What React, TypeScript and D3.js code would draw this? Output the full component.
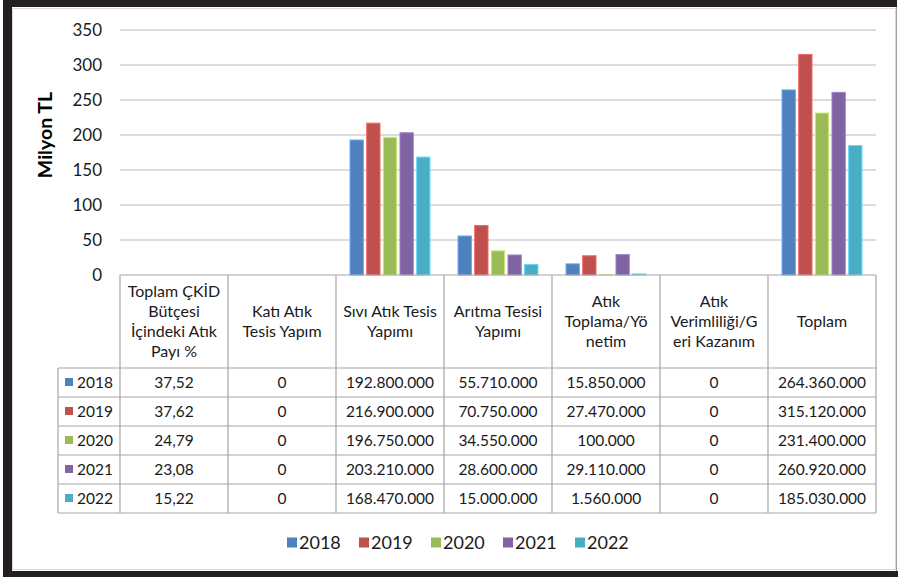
import React from "react";
import * as d3 from "d3";

const categories = [
  "Toplam ÇKİD Bütçesi İçindeki Atık Payı %",
  "Katı Atık Tesis Yapım",
  "Sıvı Atık Tesis Yapımı",
  "Arıtma Tesisi Yapımı",
  "Atık Toplama/Yönetim",
  "Atık Verimliliği/Geri Kazanım",
  "Toplam",
];
const headerLines = [
  ["Toplam ÇKİD", "Bütçesi", "İçindeki Atık", "Payı %"],
  ["Katı Atık", "Tesis Yapım"],
  ["Sıvı Atık Tesis", "Yapımı"],
  ["Arıtma Tesisi", "Yapımı"],
  ["Atık", "Toplama/Yö", "netim"],
  ["Atık", "Verimliliği/G", "eri Kazanım"],
  ["Toplam"],
];
const years = ["2018", "2019", "2020", "2021", "2022"];
const colors = ["#4F81BD", "#C0504D", "#9BBB59", "#8064A2", "#4BACC6"];
// share of waste in total budget (%), table only
const shares = [37.52, 37.62, 24.79, 23.08, 15.22];
// TL amounts for categories 2..7
const v2018 = [0, 192800000, 55710000, 15850000, 0, 264360000];
const v2019 = [0, 216900000, 70750000, 27470000, 0, 315120000];
const v2020 = [0, 196750000, 34550000, 100000, 0, 231400000];
const v2021 = [0, 203210000, 28600000, 29110000, 0, 260920000];
const v2022 = [0, 168470000, 15000000, 1560000, 0, 185030000];
const seriesValues = [v2018, v2019, v2020, v2021, v2022];
const yTicks = [0, 50, 100, 150, 200, 250, 300, 350];

const FONT = "Lato, 'Open Sans', sans-serif";
const trLocale = d3.formatLocale({ decimal: ",", thousands: ".", grouping: [3], currency: ["", " TL"] });
const fmtInt = trLocale.format(",.0f");
const fmtPct = trLocale.format(".2f");

export default function App() {
  const W = 898, H = 577;
  const x = d3.scaleBand<string>().domain(categories).range([120, 876]);
  const bw = x.bandwidth();
  const x1 = d3.scaleBand<string>().domain(years).range([bw * 0.13, bw * 0.87]).paddingInner(0.2);
  const y = d3.scaleLinear().domain([0, 350]).range([275, 30]);
  const tableTop = y(0);
  const headerBottom = 368;
  const rowH = 29;
  const keyLeft = 58;
  const tableBottom = headerBottom + rowH * years.length;
  const lineColor = "#A6A6A6";

  return (
    <svg width={W} height={H} style={{ position: "absolute", left: 0, top: 0, background: "#fff" }} fontFamily={FONT}>
      <rect x={0} y={0} width={W} height={H} fill="#fff" />
      {/* gridlines */}
      {yTicks.filter((t) => t > 0).map((t) => (
        <line key={t} x1={120} x2={876} y1={y(t)} y2={y(t)} stroke="#D0D0D0" strokeWidth={1.5} />
      ))}
      {/* y tick labels */}
      {yTicks.map((t) => (
        <text key={t} x={102} y={y(t)} dy="0.35em" textAnchor="end" fontSize={17} fill="#1a1a1a">{t}</text>
      ))}
      <text transform={`translate(52,135) rotate(-90)`} textAnchor="middle" fontSize={19.5} fontWeight="bold" fill="#000">Milyon TL</text>
      {/* bars */}
      {seriesValues.map((vals, si) =>
        vals.map((v, ci) => {
          const cat = categories[ci + 1];
          const m = v / 1e6;
          if (m <= 0) return null;
          const c = colors[si];
          return (
            <rect key={`${si}-${ci}`} x={(x(cat) as number) + (x1(years[si]) as number)} y={y(m)}
              width={x1.bandwidth()} height={y(0) - y(m)} fill={c}
              stroke={d3.color(c)!.brighter(0.7).formatHex()} strokeWidth={1} />
          );
        })
      )}
      {/* table */}
      <g stroke={lineColor} strokeWidth={1.2}>
        <line x1={120} x2={876} y1={tableTop} y2={tableTop} />
        {years.map((yr, i) => (
          <line key={yr} x1={keyLeft} x2={876} y1={headerBottom + i * rowH} y2={headerBottom + i * rowH} />
        ))}
        <line x1={keyLeft} x2={876} y1={tableBottom} y2={tableBottom} />
        <line x1={keyLeft} x2={keyLeft} y1={headerBottom} y2={tableBottom} />
        {categories.map((c) => (
          <line key={c} x1={x(c) as number} x2={x(c) as number} y1={tableTop} y2={tableBottom} />
        ))}
        <line x1={876} x2={876} y1={tableTop} y2={tableBottom} />
      </g>
      {headerLines.map((lines, ci) => {
        const cx = (x(categories[ci]) as number) + bw / 2;
        const cy = (tableTop + headerBottom) / 2;
        const lh = 20;
        return (
          <text key={ci} textAnchor="middle" fontSize={16} fill="#1a1a1a">
            {lines.map((l, li) => (
              <tspan key={li} x={cx} y={cy + (li - (lines.length - 1) / 2) * lh} dy="0.35em">{l}</tspan>
            ))}
          </text>
        );
      })}
      {years.map((yr, si) => {
        const cy = headerBottom + si * rowH + rowH / 2;
        const cells = [fmtPct(shares[si]), ...seriesValues[si].map((v) => fmtInt(v))];
        return (
          <g key={yr}>
            <rect x={65} y={cy - 4.5} width={8} height={8} fill={colors[si]} />
            <text x={77} y={cy} dy="0.35em" fontSize={15.5} fill="#1a1a1a">{yr}</text>
            {cells.map((t, ci) => (
              <text key={ci} x={(x(categories[ci]) as number) + bw / 2} y={cy} dy="0.35em" textAnchor="middle" fontSize={15.5} fill="#1a1a1a">{t}</text>
            ))}
          </g>
        );
      })}
      {/* legend */}
      {years.map((yr, i) => (
        <g key={yr} transform={`translate(${287 + i * 72},543)`}>
          <rect x={0} y={-5.5} width={10} height={10} fill={colors[i]} />
          <text x={12} y={0} dy="0.35em" fontSize={18} fill="#1a1a1a">{yr}</text>
        </g>
      ))}
      {/* frame */}
      <rect x={12.5} y={8.5} width={883} height={561} fill="none" stroke="#D9D9D9" strokeWidth={1} />
      <rect x={3} y={0} width={894} height={7} fill="#231F20" />
      <rect x={3} y={0} width={9} height={H} fill="#231F20" />
      <rect x={3} y={571} width={895} height={6} fill="#231F20" />
      <line x1={896.5} x2={896.5} y1={7} y2={571} stroke="#A0A0A0" strokeWidth={1} />
    </svg>
  );
}
